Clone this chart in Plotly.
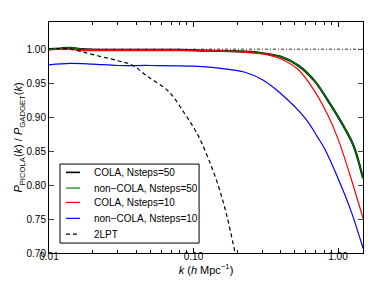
import plotly.graph_objects as go

# ---- data ----
k_cola50 = [0.010, 0.012, 0.014, 0.017, 0.022, 0.03, 0.05, 0.08, 0.12, 0.18, 0.25, 0.30, 0.40, 0.53, 0.69, 0.89, 1.11, 1.28, 1.49]
v_cola50 = [1.000, 1.001, 1.002, 1.000, 0.999, 0.999, 0.999, 0.999, 0.998, 0.997, 0.996, 0.994, 0.989, 0.976, 0.953, 0.918, 0.884, 0.858, 0.810]

k_noncola50 = k_cola50
v_noncola50 = [1.000, 1.001, 1.002, 1.000, 0.999, 0.999, 0.999, 0.999, 0.998, 0.997, 0.996, 0.994, 0.989, 0.976, 0.953, 0.918, 0.884, 0.858, 0.810]

k_cola10 = [0.010, 0.012, 0.014, 0.017, 0.022, 0.03, 0.05, 0.08, 0.12, 0.18, 0.24, 0.32, 0.40, 0.53, 0.69, 0.85, 1.00, 1.23, 1.49]
v_cola10 = [0.999, 1.000, 1.000, 0.998, 0.998, 0.998, 0.998, 0.998, 0.998, 0.997, 0.995, 0.992, 0.986, 0.970, 0.938, 0.903, 0.868, 0.810, 0.751]

k_noncola10 = [0.010, 0.014, 0.02, 0.03, 0.05, 0.10, 0.15, 0.227, 0.30, 0.385, 0.59, 0.73, 0.81, 1.00, 1.23, 1.49]
v_noncola10 = [0.977, 0.979, 0.978, 0.976, 0.976, 0.975, 0.972, 0.966, 0.955, 0.938, 0.899, 0.869, 0.853, 0.810, 0.762, 0.707]

k_2lpt = [0.010, 0.012, 0.014, 0.017, 0.022, 0.030, 0.038, 0.048, 0.067, 0.087, 0.107, 0.126, 0.148, 0.170, 0.194]
v_2lpt = [1.000, 1.001, 1.000, 0.996, 0.990, 0.983, 0.976, 0.960, 0.938, 0.905, 0.874, 0.840, 0.800, 0.755, 0.700]

k_ref = [0.01, 1.5]
v_ref = [1.0, 1.0]

series_names = ["COLA, Nsteps=50", "non\u2212COLA, Nsteps=50", "COLA, Nsteps=10", "non\u2212COLA, Nsteps=10", "2LPT"]

x_major = [0.01, 0.1, 1.0]
x_major_text = ["0.01", "0.10", "1.00"]
x_minor = [m * d for d in (0.01, 0.1, 1.0) for m in range(2, 10) if m * d <= 1.5]
y_ticks = [0.70, 0.75, 0.80, 0.85, 0.90, 0.95, 1.00]
y_tick_text = ["0.70", "0.75", "0.80", "0.85", "0.90", "0.95", "1.00"]

styles = [
    dict(color="black", width=2.2),
    dict(color="#008000", width=1.2),
    dict(color="#ff0000", width=1.2),
    dict(color="#0000ff", width=1.2),
    dict(color="black", width=1.2, dash="4px,3px"),
]

fig = go.Figure()
fig.add_trace(go.Scatter(x=k_ref, y=v_ref, mode="lines", showlegend=False,
                         line=dict(color="#333", width=1, dash="3px,2px,1px,2px")))
for kk, vv, name, st in zip([k_cola50, k_noncola50, k_cola10, k_noncola10, k_2lpt],
                            [v_cola50, v_noncola50, v_cola10, v_noncola10, v_2lpt],
                            series_names, styles):
    fig.add_trace(go.Scatter(x=kk, y=vv, mode="lines", name=name, showlegend=False,
                             line=dict(shape="spline", **st)))

# ---- compact legend box (matplotlib style) ----
shapes = [dict(type="rect", xref="paper", yref="paper", x0=0.035, x1=0.478, y0=0.043, y1=0.385,
               line=dict(color="black", width=1), fillcolor="white", layer="above")]
annotations = []
row_y = [0.349, 0.281, 0.219, 0.150, 0.082]
for ry, name, st in zip(row_y, series_names, styles):
    shapes.append(dict(type="line", xref="paper", yref="paper", x0=0.054, x1=0.099, y0=ry, y1=ry,
                       line=dict(color=st["color"], width=min(st["width"], 1.6),
                                 dash=st.get("dash", "solid")), layer="above"))
    annotations.append(dict(xref="paper", yref="paper", x=0.137, y=ry, xanchor="left", yanchor="middle",
                            text=name, showarrow=False, font=dict(size=10)))

font = "Liberation Sans, Arial, sans-serif"
fig.update_layout(
    width=374, height=282,
    margin=dict(l=41, r=19, t=14, b=37),
    paper_bgcolor="white", plot_bgcolor="white",
    font=dict(family=font, size=10, color="black"),
    showlegend=False,
    shapes=shapes, annotations=annotations,
    xaxis=dict(type="log", range=[-2, 0.173],
               tickmode="array", tickvals=x_major, ticktext=x_major_text,
               ticks="inside", ticklen=5, tickcolor="black", showline=True, linecolor="black",
               linewidth=1, mirror="ticks", showgrid=False, zeroline=False,
               ticklabelstandoff=-6,
               minor=dict(tickmode="array", tickvals=x_minor, ticks="inside", ticklen=3,
                          tickcolor="black", showgrid=False),
               title=dict(text="<i>k</i> (<i>h</i> Mpc<sup>\u22121</sup>)", standoff=3,
                          font=dict(size=11))),
    yaxis=dict(range=[0.70, 1.04], tickmode="array", tickvals=y_ticks, ticktext=y_tick_text,
               ticks="inside", ticklen=5, showline=True, linecolor="black", linewidth=1,
               mirror="ticks", showgrid=False, zeroline=False,
               title=dict(text="<i>P</i><sub>PICOLA</sub>(<i>k</i>) / <i>P</i><sub>GADGET</sub>(<i>k</i>)",
                          standoff=0, font=dict(size=11))),
)

fig.write_html("out.html")
